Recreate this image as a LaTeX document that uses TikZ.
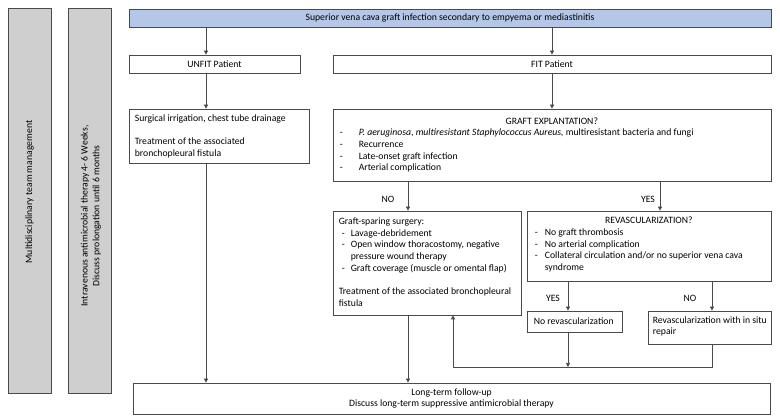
\documentclass[tikz,border=0pt]{standalone}
\usepackage{fontspec}
\setmainfont{Carlito}
\usetikzlibrary{arrows.meta}
\definecolor{linec}{HTML}{4A4A4A}
\definecolor{topblue}{HTML}{B4C7E7}
\definecolor{bargray}{HTML}{D0CFCF}
\tikzset{
  txt/.style={font=\fontsize{9.7}{11.7}\selectfont,
    execute at begin node={\spaceskip=0pt\xspaceskip=0pt\relax}},
  box/.style={txt, draw=linec, line width=0.7pt, inner sep=0pt},
  cbox/.style={box, align=center},
  ltxt/.style={txt, inner sep=0pt, align=left, anchor=west},
  bar/.style={draw=linec, line width=0.7pt, fill=bargray, inner sep=0pt},
  arr/.style={draw=linec, line width=0.7pt, -{Triangle[length=4pt,width=4pt]}},
  lbl/.style={txt, inner sep=0pt}
}
\newcommand\dsh[1]{\makebox[#1][l]{-}}
\begin{document}
\begin{tikzpicture}[x=1pt,y=-1pt]
\useasboundingbox (0,0) rectangle (780,419);
% side bars
\node[bar, minimum width=43, minimum height=385] (bar1) at (29.5,200.5) {};
\node[lbl, rotate=90] (bar1t) at (29.5,192) {Multidisciplinary team management};
\node[bar, minimum width=43, minimum height=385] (bar2) at (89.5,200.5) {};
\node[lbl, rotate=90, align=center] (bar2t) at (91,216) {Intravenous antimicrobial therapy 4- 6 Weeks,\\Discuss prolongation until 6 months};
% boxes
\node[cbox, fill=topblue, minimum width=642, minimum height=18] (top) at (450,18) {Superior vena cava graft infection secondary to empyema or mediastinitis};
\node[cbox, minimum width=171, minimum height=18] (unfit) at (214.5,64) {UNFIT Patient};
\node[cbox, minimum width=438, minimum height=18] (fit) at (552,64) {FIT Patient};
\node[box, minimum width=180, minimum height=54] (surg) at (219,136) {};
\node[ltxt] (surgt) at ([xshift=6pt]surg.west) {Surgical irrigation, chest tube drainage\\[11.7pt]Treatment of the associated\\bronchopleural fistula};
\node[box, minimum width=438, minimum height=72] (graft) at (552,145) {};
\node[ltxt] (graftt) at ([xshift=7pt]graft.west) {\makebox[424pt]{GRAFT EXPLANTATION?}\\
\dsh{19pt}\textit{P. aeruginosa}, \textit{multiresistant Staphylococcus Aureus,} multiresistant bacteria and fungi\\
\dsh{19pt}Recurrence\\
\dsh{19pt}Late-onset graft infection\\
\dsh{19pt}Arterial complication};
\node[box, minimum width=188, minimum height=104] (spare) at (427,263) {};
\node[ltxt] (sparet) at ([xshift=6pt,yshift=1pt]spare.west) {Graft-sparing surgery:\\
\hspace*{3pt}\dsh{9pt}Lavage-debridement\\
\hspace*{3pt}\dsh{9pt}Open window thoracostomy, negative\\
\hspace*{12pt}pressure wound therapy\\
\hspace*{3pt}\dsh{9pt}Graft coverage (muscle or omental flap)\\[11.7pt]
Treatment of the associated bronchopleural\\fistula};
\node[box, minimum width=244, minimum height=70] (revq) at (649,246) {};
\node[ltxt] (revqt) at ([xshift=8pt,yshift=1.5pt]revq.west) {\makebox[228pt]{REVASCULARIZATION?}\\
\dsh{10pt}No graft thrombosis\\
\dsh{10pt}No arterial complication\\
\dsh{10pt}Collateral circulation and/or no superior vena cava\\
\hspace*{10pt}syndrome};
\node[box, minimum width=95, minimum height=21] (norev) at (574.5,321.5) {};
\node[ltxt] (norevt) at ([xshift=7pt]norev.west) {No revascularization};
\node[box, minimum width=123, minimum height=33] (insitu) at (709.5,327.5) {};
\node[ltxt] (insitut) at ([xshift=5pt,yshift=1pt]insitu.west) {Revascularization with in situ\\repair};
\node[cbox, minimum width=637, minimum height=31] (long) at (451.5,398.5) {Long-term follow-up\\Discuss long-term suppressive antimicrobial therapy};
% guide coordinates
\coordinate (ax) at (206,0);
\coordinate (bx) at (408,0);
\coordinate (cx) at (660,0);
\coordinate (dx) at (568,0);
\coordinate (ex) at (712,0);
\coordinate (fx) at (453,0);
\coordinate (jy) at (0,367);
% connectors
\draw[arr] (top.south -| ax) -- (unfit.north -| ax);
\draw[arr] (top.south -| fit.north) -- (fit.north);
\draw[arr] (unfit.south -| ax) -- (surg.north -| ax);
\draw[arr] (fit.south) -- (graft.north);
\draw[arr] (surg.south -| ax) -- (long.north -| ax);
\draw[arr] (graft.south -| bx) -- (spare.north -| bx);
\draw[arr] (graft.south -| cx) -- (revq.north -| cx);
\draw[arr] (spare.south -| bx) -- (long.north -| bx);
\draw[arr] (revq.south -| dx) -- (norev.north -| dx);
\draw[arr] (revq.south -| ex) -- (insitu.north -| ex);
\draw[arr] (norev.south -| dx) -- (jy -| dx);
\draw[arr] (insitu.south -| ex) -- (jy -| ex) -- (jy -| fx) -- (spare.south -| fx);
% labels
\node[lbl] (lno1) at (388,199) {NO};
\node[lbl] (lyes1) at (648,199) {YES};
\node[lbl] (lyes2) at (553,298) {YES};
\node[lbl] (lno2) at (690,298) {NO};
\end{tikzpicture}
\end{document}
